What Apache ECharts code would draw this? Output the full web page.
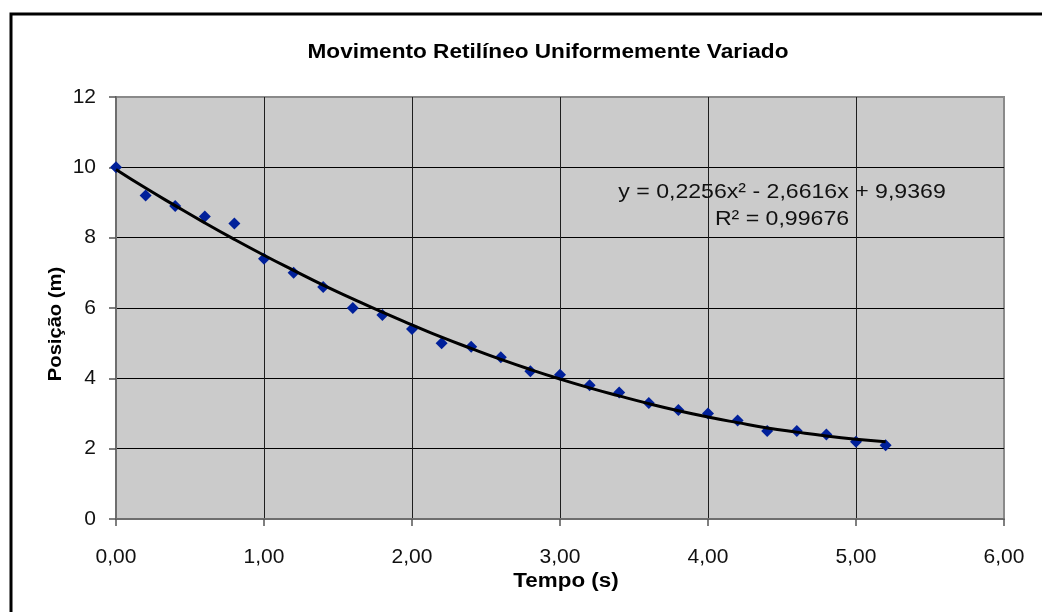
<!DOCTYPE html>
<html>
<head>
<meta charset="utf-8">
<script src="https://cdn.jsdelivr.net/npm/echarts@6/dist/echarts.min.js"></script>
<style>
html,body{margin:0;padding:0;background:#fff;}
#chart{width:1042px;height:612px;}
</style>
</head>
<body>
<div id="chart"></div>
<script>
// Measured data points (Tempo em s, Posição em m)
const tempo = [0, 0.2, 0.4, 0.6, 0.8, 1.0, 1.2, 1.4, 1.6, 1.8, 2.0, 2.2, 2.4, 2.6, 2.8, 3.0, 3.2, 3.4, 3.6, 3.8, 4.0, 4.2, 4.4, 4.6, 4.8, 5.0, 5.2];
const posicao = [10.0, 9.2, 8.9, 8.6, 8.4, 7.4, 7.0, 6.6, 6.0, 5.8, 5.4, 5.0, 4.9, 4.6, 4.2, 4.1, 3.8, 3.6, 3.3, 3.1, 3.0, 2.8, 2.5, 2.5, 2.4, 2.2, 2.1];
// Trend line
const trendX = [0, 0.2, 0.4, 0.6, 0.8, 1.0, 1.2, 1.4, 1.6, 1.8, 2.0, 2.2, 2.4, 2.6, 2.8, 3.0, 3.2, 3.4, 3.6, 3.8, 4.0, 4.2, 4.4, 4.6, 4.8, 5.0, 5.2];
const trendY = [9.94, 9.41, 8.91, 8.42, 7.95, 7.50, 7.07, 6.65, 6.26, 5.88, 5.52, 5.17, 4.85, 4.54, 4.25, 3.98, 3.73, 3.50, 3.28, 3.08, 2.90, 2.74, 2.59, 2.47, 2.36, 2.27, 2.20];

const titleText = 'Movimento Retilíneo Uniformemente Variado';
const xName = 'Tempo (s)';
const yName = 'Posição (m)';
const eqLine1 = 'y = 0,2256x² - 2,6616x + 9,9369';
const eqLine2 = 'R² = 0,99676';

const FONT = 'Liberation Sans, Arial, sans-serif';
const chart = echarts.init(document.getElementById('chart'), null, {renderer: 'canvas'});

const option = {
  backgroundColor: '#ffffff',
  animation: false,
  grid: {
    left: 116, right: 38, top: 97, bottom: 93,
    show: true, backgroundColor: '#cbcbcb', borderColor: '#8a8a8a', borderWidth: 2
  },
  xAxis: {
    type: 'value', min: 0, max: 6, interval: 1,
    axisLine: {show: true, onZero: false, lineStyle: {color: '#6e6e6e', width: 2}},
    axisTick: {show: true, length: 7, lineStyle: {color: '#555', width: 1.5}},
    axisLabel: {color: '#111', fontFamily: FONT, fontSize: 21, margin: 28,
      formatter: v => v.toFixed(2).replace('.', ',')},
    splitLine: {show: true, showMaxLine: false, showMinLine: false, lineStyle: {color: '#1e1e1e', width: 1}}
  },
  yAxis: {
    type: 'value', min: 0, max: 12, interval: 2,
    axisLine: {show: true, onZero: false, lineStyle: {color: '#6e6e6e', width: 2}},
    axisTick: {show: true, length: 7, lineStyle: {color: '#555', width: 1.5}},
    axisLabel: {color: '#111', fontFamily: FONT, fontSize: 21, margin: 20},
    splitLine: {show: true, showMaxLine: false, showMinLine: false, lineStyle: {color: '#000', width: 1}}
  },
  series: [
    {
      type: 'scatter', name: 'dados',
      data: tempo.map((t, i) => [t, posicao[i]]),
      symbol: 'diamond', symbolSize: 12,
      itemStyle: {color: '#00209a', opacity: 1}, z: 2
    },
    {
      type: 'line', name: 'tendência',
      data: trendX.map((t, i) => [t, trendY[i]]),
      smooth: true, showSymbol: false, symbol: 'none',
      lineStyle: {color: '#000', width: 3}, z: 3
    }
  ],
  graphic: [
    {type: 'rect', shape: {x: 11, y: 14, width: 1200, height: 800},
      style: {fill: 'none', stroke: '#000', lineWidth: 3}, silent: true},
    {type: 'text', x: 548, y: 52, scaleX: 1.13,
      style: {text: titleText, font: 'bold 20px ' + FONT, fill: '#000', textAlign: 'center', textVerticalAlign: 'middle'}},
    {type: 'text', x: 566, y: 581, scaleX: 1.12,
      style: {text: xName, font: 'bold 20px ' + FONT, fill: '#000', textAlign: 'center', textVerticalAlign: 'middle'}},
    {type: 'text', x: 56, y: 324, rotation: Math.PI / 2, scaleX: 1.12,
      style: {text: yName, font: 'bold 18px ' + FONT, fill: '#000', textAlign: 'center', textVerticalAlign: 'middle'}},
    {type: 'text', x: 782, y: 192, z: 10, scaleX: 1.1,
      style: {text: eqLine1, font: '21px ' + FONT, fill: '#111', textAlign: 'center', textVerticalAlign: 'middle'}},
    {type: 'text', x: 782, y: 219, z: 10, scaleX: 1.1,
      style: {text: eqLine2, font: '21px ' + FONT, fill: '#111', textAlign: 'center', textVerticalAlign: 'middle'}}
  ]
};
chart.setOption(option);
</script>
</body>
</html>
